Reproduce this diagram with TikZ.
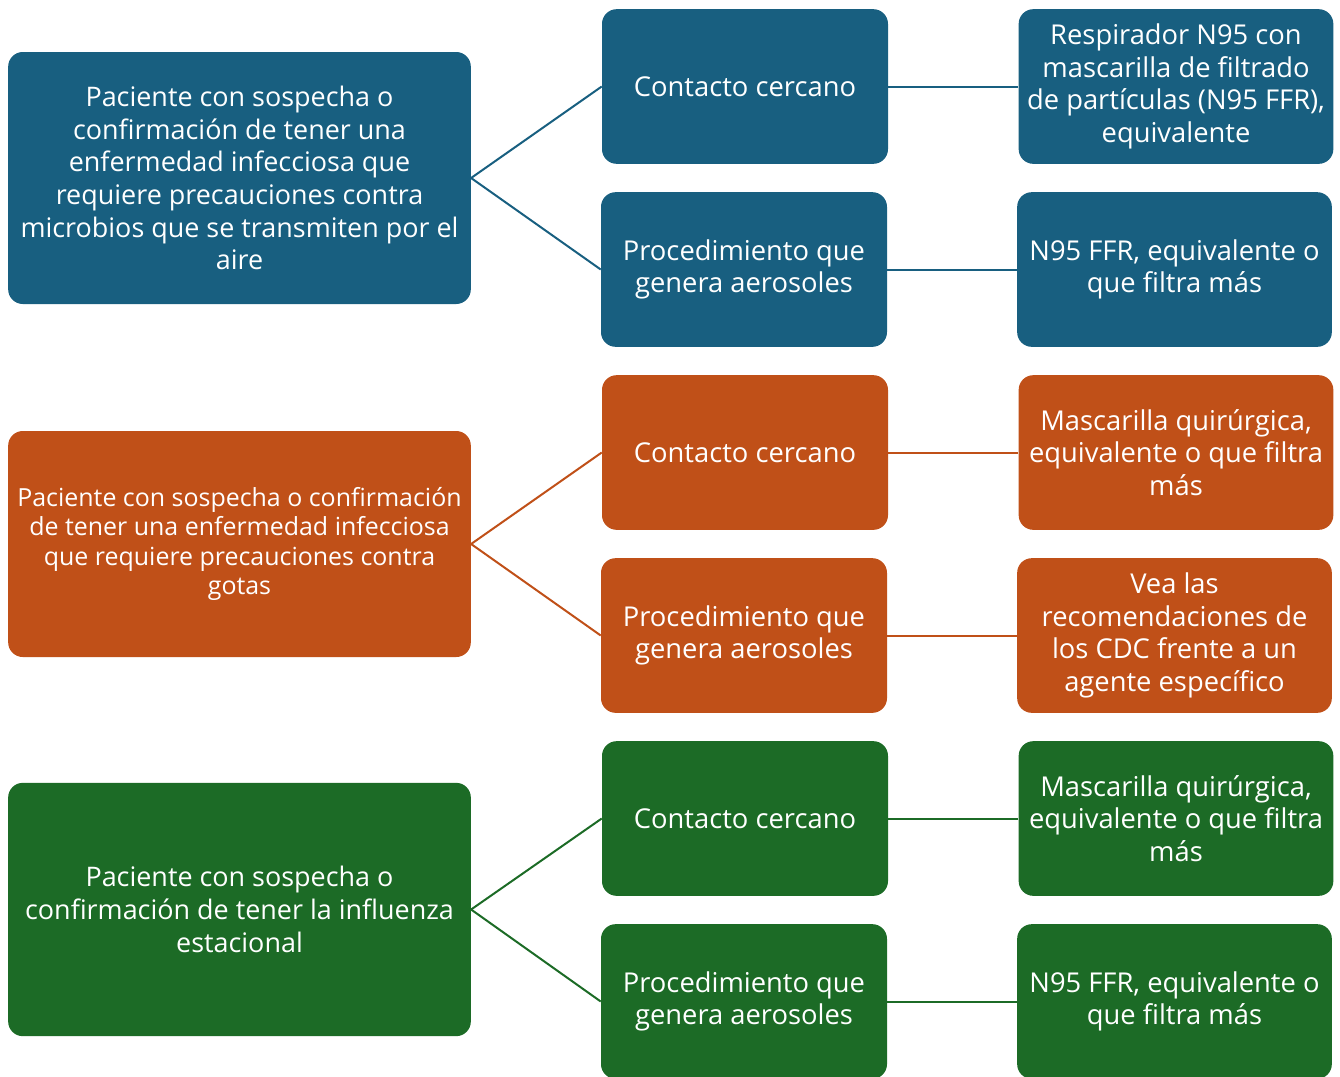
\documentclass[tikz,border=0pt]{standalone}
\usepackage{fontspec}
\setmainfont{Open Sans}
\definecolor{bluebox}{HTML}{185F80}
\definecolor{orangebox}{HTML}{C05018}
\definecolor{greenbox}{HTML}{1C6B26}

\begin{document}
\begin{tikzpicture}
  [x=0.75pt,y=-0.75pt,
   box/.style={rectangle,rounded corners=11pt,text=white,align=center,
               inner sep=0pt,font=\fontsize{20.5}{24.5}\selectfont},
   patient/.style={box,minimum width=347pt,minimum height=#1},
   situation/.style={box,minimum width=214.5pt,minimum height=116pt},
   mask/.style={box,minimum width=236pt,minimum height=116pt},
   link/.style={line width=1.5pt}]
  \useasboundingbox (0,0) rectangle (1340,1076);

  % airborne
  \node (pa) at (239.5,178) [patient=189pt,fill=bluebox,
                             font=\fontsize{20.2}{24.5}\selectfont]
    {Paciente con sospecha o\\confirmación de tener una\\enfermedad infecciosa que\\requiere precauciones contra\\microbios que se transmiten por el\\aire};
  \node (pa1) at (745,86.5) [situation,fill=bluebox] {Contacto cercano};
  \node (pa2) at (744,269.5) [situation,fill=bluebox] {Procedimiento que\\genera aerosoles};
  \node (ma1) at (1176,86.5) [mask,fill=bluebox]
    {Respirador N95 con\\mascarilla de filtrado\\de partículas (N95 FFR),\\equivalente};
  \node (ma2) at (1174.5,269.5) [mask,fill=bluebox] {N95 FFR, equivalente o\\que filtra más};
  \draw [link,bluebox] (pa.east) -- (pa1.west);
  \draw [link,bluebox] (pa.east) -- (pa2.west);
  \draw [link,bluebox] (pa1.east) -- (ma1.west);
  \draw [link,bluebox] (pa2.east) -- (ma2.west);

  % droplets
  \node (pd) at (239.5,544) [patient=169.5pt,fill=orangebox,
                             font=\fontsize{18.7}{22}\selectfont]
    {Paciente con sospecha o confirmación\\de tener una enfermedad infecciosa\\que requiere precauciones contra\\gotas};
  \node (pd1) at (745,452.5) [situation,fill=orangebox] {Contacto cercano};
  \node (pd2) at (744,635.5) [situation,fill=orangebox] {Procedimiento que\\genera aerosoles};
  \node (md1) at (1176,452.5) [mask,fill=orangebox]
    {Mascarilla quirúrgica,\\equivalente o que filtra\\más};
  \node (md2) at (1174.5,635.5) [mask,fill=orangebox]
    {Vea las\\recomendaciones de\\los CDC frente a un\\agente específico};
  \draw [link,orangebox] (pd.east) -- (pd1.west);
  \draw [link,orangebox] (pd.east) -- (pd2.west);
  \draw [link,orangebox] (pd1.east) -- (md1.west);
  \draw [link,orangebox] (pd2.east) -- (md2.west);

  % influenza
  \node (pf) at (239.5,909.5) [patient=190pt,fill=greenbox,
                               font=\fontsize{20.2}{24.5}\selectfont]
    {Paciente con sospecha o\\confirmación de tener la influenza\\estacional};
  \node (pf1) at (745,818.5) [situation,fill=greenbox] {Contacto cercano};
  \node (pf2) at (744,1001.5) [situation,fill=greenbox] {Procedimiento que\\genera aerosoles};
  \node (mf1) at (1176,818.5) [mask,fill=greenbox]
    {Mascarilla quirúrgica,\\equivalente o que filtra\\más};
  \node (mf2) at (1174.5,1001.5) [mask,fill=greenbox] {N95 FFR, equivalente o\\que filtra más};
  \draw [link,greenbox] (pf.east) -- (pf1.west);
  \draw [link,greenbox] (pf.east) -- (pf2.west);
  \draw [link,greenbox] (pf1.east) -- (mf1.west);
  \draw [link,greenbox] (pf2.east) -- (mf2.west);
\end{tikzpicture}
\end{document}
